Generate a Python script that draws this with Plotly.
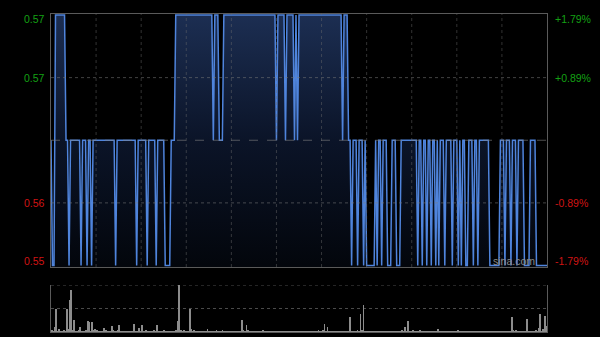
import plotly.graph_objects as go

# ---------------- data ----------------
minutes = list(range(331))  # one-minute samples over the trading day
prev_close = 0.56

price = [
    0.56, 0.55, 0.55, 0.57, 0.57, 0.57, 0.57, 0.57, 0.57, 0.57,
    0.56, 0.56, 0.55, 0.56, 0.56, 0.56, 0.56, 0.56, 0.56, 0.56,
    0.55, 0.56, 0.56, 0.56, 0.55, 0.56, 0.56, 0.55, 0.56, 0.56,
    0.56, 0.56, 0.56, 0.56, 0.56, 0.56, 0.56, 0.56, 0.56, 0.56,
    0.56, 0.56, 0.56, 0.55, 0.56, 0.56, 0.56, 0.56, 0.56, 0.56,
    0.56, 0.56, 0.56, 0.56, 0.56, 0.56, 0.56, 0.55, 0.56, 0.56,
    0.56, 0.56, 0.56, 0.56, 0.55, 0.56, 0.56, 0.56, 0.56, 0.56,
    0.55, 0.56, 0.56, 0.56, 0.56, 0.56, 0.55, 0.55, 0.55, 0.55,
    0.56, 0.56, 0.56, 0.57, 0.57, 0.57, 0.57, 0.57, 0.57, 0.57,
    0.57, 0.57, 0.57, 0.57, 0.57, 0.57, 0.57, 0.57, 0.57, 0.57,
    0.57, 0.57, 0.57, 0.57, 0.57, 0.57, 0.57, 0.57, 0.56, 0.57,
    0.57, 0.57, 0.56, 0.56, 0.56, 0.57, 0.57, 0.57, 0.57, 0.57,
    0.57, 0.57, 0.57, 0.57, 0.57, 0.57, 0.57, 0.57, 0.57, 0.57,
    0.57, 0.57, 0.57, 0.57, 0.57, 0.57, 0.57, 0.57, 0.57, 0.57,
    0.57, 0.57, 0.57, 0.57, 0.57, 0.57, 0.57, 0.57, 0.57, 0.57,
    0.56, 0.57, 0.57, 0.57, 0.57, 0.57, 0.56, 0.57, 0.57, 0.57,
    0.57, 0.57, 0.56, 0.57, 0.56, 0.57, 0.57, 0.57, 0.57, 0.57,
    0.57, 0.57, 0.57, 0.57, 0.57, 0.57, 0.57, 0.57, 0.57, 0.57,
    0.57, 0.57, 0.57, 0.57, 0.57, 0.57, 0.57, 0.57, 0.57, 0.57,
    0.57, 0.57, 0.57, 0.57, 0.56, 0.57, 0.57, 0.57, 0.56, 0.56,
    0.55, 0.56, 0.56, 0.56, 0.55, 0.56, 0.56, 0.56, 0.55, 0.56,
    0.55, 0.55, 0.55, 0.55, 0.55, 0.55, 0.56, 0.55, 0.56, 0.56,
    0.55, 0.56, 0.56, 0.56, 0.55, 0.55, 0.55, 0.56, 0.56, 0.56,
    0.55, 0.55, 0.55, 0.56, 0.56, 0.56, 0.56, 0.56, 0.56, 0.56,
    0.56, 0.56, 0.56, 0.56, 0.55, 0.56, 0.56, 0.55, 0.56, 0.56,
    0.55, 0.56, 0.56, 0.55, 0.56, 0.56, 0.55, 0.56, 0.55, 0.56,
    0.56, 0.56, 0.55, 0.56, 0.56, 0.56, 0.56, 0.55, 0.56, 0.56,
    0.56, 0.55, 0.56, 0.55, 0.56, 0.56, 0.55, 0.55, 0.56, 0.56,
    0.56, 0.55, 0.56, 0.56, 0.55, 0.56, 0.56, 0.56, 0.56, 0.56,
    0.56, 0.56, 0.55, 0.55, 0.55, 0.55, 0.55, 0.55, 0.55, 0.56,
    0.56, 0.56, 0.55, 0.56, 0.56, 0.56, 0.55, 0.56, 0.56, 0.56,
    0.55, 0.56, 0.56, 0.56, 0.56, 0.55, 0.55, 0.55, 0.55, 0.56,
    0.56, 0.56, 0.56, 0.55, 0.55, 0.55, 0.55, 0.55, 0.55, 0.55,
    0.55,
]

volume = [
    3, 2, 10, 48, 2, 7, 1, 2, 3, 2,
    48, 7, 69, 89, 4, 25, 2, 1, 3, 11,
    2, 1, 2, 3, 23, 21, 2, 21, 3, 7,
    5, 2, 1, 2, 1, 9, 3, 1, 2, 1,
    12, 5, 2, 1, 3, 14, 2, 1, 1, 2,
    1, 2, 1, 1, 2, 16, 1, 2, 9, 1,
    14, 2, 1, 5, 1, 2, 1, 1, 5, 2,
    14, 1, 2, 1, 1, 5, 2, 1, 1, 2,
    1, 1, 2, 3, 23, 100, 4, 2, 3, 2,
    1, 2, 49, 7, 2, 4, 1, 2, 1, 1,
    2, 1, 1, 2, 7, 1, 1, 2, 1, 1,
    5, 1, 2, 1, 5, 1, 1, 2, 1, 1,
    1, 2, 1, 1, 1, 2, 1, 25, 3, 2,
    14, 5, 2, 1, 1, 1, 2, 1, 1, 1,
    1, 5, 1, 1, 2, 1, 1, 1, 1, 1,
    1, 1, 2, 1, 1, 1, 1, 1, 2, 1,
    1, 1, 1, 1, 2, 1, 1, 1, 1, 1,
    1, 2, 1, 1, 1, 1, 2, 1, 5, 2,
    1, 3, 18, 2, 11, 2, 1, 1, 1, 2,
    1, 1, 1, 1, 2, 1, 1, 1, 2, 32,
    1, 2, 1, 2, 5, 2, 38, 3, 57, 2,
    1, 1, 2, 1, 1, 1, 2, 1, 1, 1,
    1, 1, 1, 2, 1, 1, 1, 1, 1, 1,
    1, 1, 2, 1, 5, 2, 11, 1, 24, 2,
    1, 4, 1, 1, 2, 1, 5, 1, 1, 1,
    1, 1, 2, 1, 1, 1, 1, 2, 7, 1,
    1, 1, 1, 1, 2, 1, 1, 1, 1, 1,
    1, 5, 1, 1, 2, 1, 1, 1, 1, 1,
    1, 2, 1, 1, 1, 1, 1, 1, 2, 1,
    1, 1, 1, 1, 1, 2, 1, 1, 1, 1,
    1, 1, 1, 2, 1, 1, 2, 31, 3, 1,
    4, 2, 1, 1, 1, 1, 2, 27, 2, 1,
    1, 2, 2, 3, 1, 9, 38, 2, 7, 34,
    12,
]

price_ticks = [0.57, 0.565, 0.555, 0.55]
price_tick_labels = ["0.57", "0.57", "0.56", "0.55"]
pct_tick_labels = ["+1.79%", "+0.89%", "-0.89%", "-1.79%"]
grid_minutes = [30, 60, 90, 120, 150, 180, 210, 240, 270, 300]

# ---------------- styling ----------------
BG = "#000000"
BORDER = "#5a5a5a"
GRID = "rgba(110,110,110,0.45)"
LINE = "#4f84dc"
UP = "#14a014"
DOWN = "#d01414"
FONT = "Liberation Sans, Arial, sans-serif"

W, H = 600, 337
X0, X1 = 51, 547
MAIN_T, MAIN_B = 13.5, 267
VOL_T, VOL_B = 285, 332

def py(p):
    return 1 - p / H

fig = go.Figure()

fig.add_trace(go.Scatter(
    x=minutes, y=price, mode="lines",
    line=dict(color=LINE, width=1.5),
    fill="tozeroy",
    fillgradient=dict(type="vertical",
                      colorscale=[[0, "#03060c"], [0.5, "#0b1428"], [1, "#1c2e52"]],
                      start=0.55, stop=0.57),
    xaxis="x", yaxis="y", hoverinfo="skip", showlegend=False,
))

fig.add_trace(go.Bar(
    x=minutes, y=volume, marker=dict(color="#8c8c8c", line=dict(width=0)),
    width=0.55, xaxis="x2", yaxis="y2", hoverinfo="skip", showlegend=False,
))

pad = 0.02 * 1.5 / (MAIN_B - MAIN_T)
fig.update_layout(
    width=W, height=H,
    margin=dict(l=0, r=0, t=0, b=0),
    paper_bgcolor=BG, plot_bgcolor=BG,
    bargap=0,
    xaxis=dict(domain=[X0 / W, X1 / W], range=[0, 330], anchor="y",
               showticklabels=False, ticks="", zeroline=False, showgrid=False,
               showline=True, mirror=True, linecolor=BORDER, linewidth=1),
    yaxis=dict(domain=[py(MAIN_B), py(MAIN_T)], range=[0.55 - pad, 0.57 + pad],
               anchor="x", showticklabels=False, ticks="", showgrid=False,
               zeroline=False, showline=True, mirror=True,
               linecolor=BORDER, linewidth=1),
    xaxis2=dict(domain=[X0 / W, X1 / W], range=[-0.5, 330.5], anchor="y2",
                showticklabels=False, ticks="", showgrid=False, zeroline=False,
                showline=True, linecolor=BORDER, linewidth=1),
    yaxis2=dict(domain=[py(VOL_B), py(VOL_T)], range=[0, 100], anchor="x2",
                showticklabels=False, ticks="", showgrid=False, zeroline=False,
                showline=True, mirror=True, linecolor=BORDER, linewidth=1),
)

shapes = []
for gm in grid_minutes:
    shapes.append(dict(type="line", xref="x", yref="y", x0=gm, x1=gm,
                       y0=0.55 - pad, y1=0.57 + pad,
                       line=dict(color=GRID, width=1, dash="dot"), layer="above"))
for yv, dash, col in [(0.565, "dot", "rgba(120,120,120,0.55)"),
                      (0.555, "dot", "rgba(120,120,120,0.55)"),
                      (prev_close, "dash", "rgba(130,130,130,0.6)")]:
    shapes.append(dict(type="line", xref="x", yref="y", x0=0, x1=330,
                       y0=yv, y1=yv, line=dict(color=col, width=1, dash=dash),
                       layer="above"))
for yv in [100, 50]:
    shapes.append(dict(type="line", xref="x2", yref="y2", x0=-0.5, x1=330.5,
                       y0=yv, y1=yv, line=dict(color="#4a4a4a", width=1, dash="dot"),
                       layer="below"))
fig.update_layout(shapes=shapes)

annotations = []
shifts = [-4, 0, 0, 5]
for i, (yv, lt, rt) in enumerate(zip(price_ticks, price_tick_labels, pct_tick_labels)):
    col = UP if yv > prev_close else DOWN
    annotations.append(dict(x=(X0 - 4) / W, xref="paper", y=yv, yref="y",
                            text=lt, showarrow=False, xanchor="right",
                            yanchor="middle", yshift=shifts[i],
                            font=dict(family=FONT, size=10.5, color=col)))
    annotations.append(dict(x=(X1 + 6) / W, xref="paper", y=yv, yref="y",
                            text=rt, showarrow=False, xanchor="left",
                            yanchor="middle", yshift=shifts[i],
                            font=dict(family=FONT, size=10.5, color=col)))
annotations.append(dict(x=537 / W, xref="paper", y=py(261), yref="paper",
                        text="sina.com", showarrow=False, xanchor="right",
                        yanchor="middle",
                        font=dict(family=FONT, size=10.5, color="#8a8a8a")))
fig.update_layout(annotations=annotations)

fig.write_html("out.html")
